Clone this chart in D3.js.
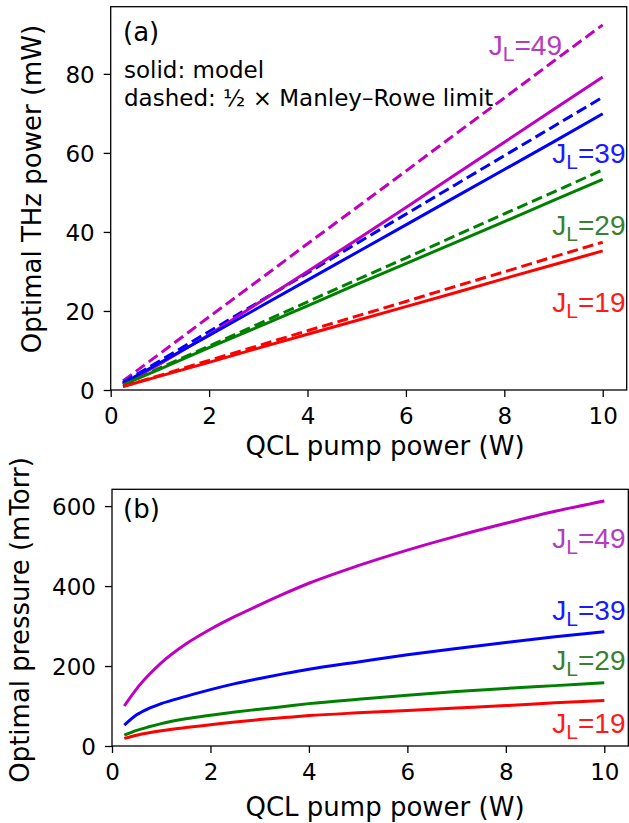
<!DOCTYPE html>
<html><head><meta charset="utf-8">
<script src="https://cdn.jsdelivr.net/npm/d3@7"></script>
<style>body{margin:0;background:#fff} svg{display:block;background:#fff}</style>
</head><body><svg id="c" width="629" height="823"></svg>
<script>
// ---------- data ----------
const xTicks = [0, 2, 4, 6, 8, 10];
const yTicksTop = [0, 20, 40, 60, 80];
const yTicksBottom = [0, 200, 400, 600];
const seriesNames = ["49", "39", "29", "19"];
const lineColors = ["#bf00bf", "#0000ff", "#008000", "#ff0000"];
const labelColors = ["#b23cc2", "#1a1aff", "#3a8030", "#ff1a1a"];

// panel (a): optimal THz power (mW) vs QCL pump power (W)
const pumpTop = [0.25, 1, 2, 3, 4, 5, 6, 7, 8, 9, 10];
const thzModel49 = [1.5, 6.6, 14.0, 22.0, 30.0, 38.0, 46.2, 54.5, 62.7, 71.0, 79.2];
const thzModel39 = [1.7, 6.9, 13.8, 20.8, 27.8, 34.8, 41.8, 48.8, 55.8, 62.8, 69.9];
const thzModel29 = [1.3, 5.3, 10.7, 16.0, 21.3, 26.7, 32.0, 37.3, 42.6, 48.0, 53.3];
const thzModel19 = [0.9, 3.5, 7.0, 10.6, 14.1, 17.6, 21.1, 24.6, 28.2, 31.7, 35.2];
const thzMR49 = [2.3, 9.2, 18.5, 27.7, 37.0, 46.2, 55.4, 64.7, 73.9, 83.2, 92.4];
const thzMR39 = [1.9, 7.4, 14.8, 22.2, 29.6, 37.1, 44.5, 51.9, 59.3, 66.7, 74.1];
const thzMR29 = [1.4, 5.6, 11.1, 16.7, 22.3, 27.9, 33.4, 39.0, 44.6, 50.1, 55.7];
const thzMR19 = [0.9, 3.7, 7.5, 11.2, 15.0, 18.7, 22.4, 26.2, 29.9, 33.7, 37.4];

// panel (b): optimal pressure (mTorr)
const pumpBottom = [0.25, 0.5, 0.75, 1, 1.5, 2, 2.5, 3, 3.5, 4, 5, 6, 7, 8, 9, 10];
const press49 = [100, 143, 178, 208, 255, 292, 324, 353, 381, 407, 451, 490, 525, 557, 587, 613];
const press39 = [52, 78, 94, 106, 124, 141, 156, 169, 181, 192, 210, 228, 244, 259, 273, 286];
const press29 = [27, 39, 48, 56, 68, 77, 85, 92, 99, 106, 117, 127, 136, 144, 151, 158];
const press19 = [19, 27, 33, 38, 46, 53, 60, 66, 71, 76, 83, 89, 95, 101, 108, 114];

const modelTop = [thzModel49, thzModel39, thzModel29, thzModel19];
const mrTop = [thzMR49, thzMR39, thzMR29, thzMR19];
const pressAll = [press49, press39, press29, press19];

// ---------- drawing ----------
const svg = d3.select("#c");
const tickFont = "'DejaVu Sans', sans-serif";

function panel(box, yDomain, yTicks) {
  const x = d3.scaleLinear().domain([0, 10.4875]).range([box.l, box.r]);
  const y = d3.scaleLinear().domain(yDomain).range([box.b, box.t]);
  const g = svg.append("g");
  const ax = g.append("g").attr("transform", `translate(0,${box.b})`)
    .call(d3.axisBottom(x).tickValues(xTicks).tickFormat(d3.format("d")).tickSize(7).tickPadding(9));
  const ay = g.append("g").attr("transform", `translate(${box.l},0)`)
    .call(d3.axisLeft(y).tickValues(yTicks).tickFormat(d3.format("d")).tickSize(7).tickPadding(9));
  [ax, ay].forEach(a => {
    a.select(".domain").remove();
    a.selectAll("line").attr("stroke", "#000").attr("stroke-width", 1.3);
    a.selectAll("text").attr("font-family", tickFont).attr("font-size", 23).attr("fill", "#000");
  });
  ax.selectAll("text").attr("dy", null).attr("y", 34).attr("dominant-baseline", "auto");
  ay.selectAll("text").attr("dy", "0.36em");
  return {g, x, y};
}

function frame(box) {
  svg.append("rect").attr("x", box.l).attr("y", box.t)
    .attr("width", box.r - box.l).attr("height", box.b - box.t)
    .attr("fill", "none").attr("stroke", "#000").attr("stroke-width", 1.3);
}

function jLabel(xp, yp, name, color) {
  const t = svg.append("text").attr("x", xp).attr("y", yp)
    .attr("text-anchor", "end").attr("font-family", "'Liberation Sans', Arial, sans-serif")
    .attr("font-size", 28).attr("fill", color);
  t.append("tspan").text("J");
  t.append("tspan").attr("font-size", 21).attr("dy", 6).text("L");
  t.append("tspan").attr("dy", -6).text("=" + name);
}

// Panel (a)
const boxA = {l: 110.7, r: 626.7, t: 6.7, b: 390};
const pa = panel(boxA, [0, 97], yTicksTop);
const lineA = (vals) => d3.line().x((d, i) => pa.x(pumpTop[i])).y(d => pa.y(d))(vals);
mrTop.forEach((vals, k) => {
  pa.g.append("path").attr("d", lineA(vals)).attr("fill", "none")
    .attr("stroke", lineColors[k]).attr("stroke-width", 3).attr("stroke-dasharray", "11,5");
});
modelTop.forEach((vals, k) => {
  pa.g.append("path").attr("d", lineA(vals)).attr("fill", "none")
    .attr("stroke", lineColors[k]).attr("stroke-width", 3);
});
frame(boxA);

// Panel (b)
const boxB = {l: 112, r: 628.3, t: 489.3, b: 746};
const pb = panel(boxB, [0, 642], yTicksBottom);
const lineB = (vals) => d3.line().curve(d3.curveMonotoneX)
  .x((d, i) => pb.x(pumpBottom[i])).y(d => pb.y(d))(vals);
pressAll.forEach((vals, k) => {
  pb.g.append("path").attr("d", lineB(vals)).attr("fill", "none")
    .attr("stroke", lineColors[k]).attr("stroke-width", 3);
});
frame(boxB);

// axis labels
const lab = (xp, yp, txt, rot) => {
  const t = svg.append("text").attr("font-family", tickFont).attr("font-size", 26)
    .attr("fill", "#000").attr("text-anchor", "middle").text(txt);
  if (rot) t.attr("transform", `translate(${xp},${yp}) rotate(-90)`);
  else t.attr("x", xp).attr("y", yp);
};
lab(385, 455, "QCL pump power (W)");
lab(385, 816, "QCL pump power (W)");
lab(41, 189, "Optimal THz power (mW)", true);
lab(29, 620, "Optimal pressure (mTorr)", true);

// annotations
const note = (xp, yp, txt, fs) => svg.append("text").attr("x", xp).attr("y", yp)
  .attr("font-family", tickFont).attr("font-size", fs).attr("fill", "#000").text(txt);
note(123, 41, "(a)", 26);
note(124, 78, "solid: model", 23);
note(124, 106, "dashed: ½ × Manley–Rowe limit", 23);
note(123, 518, "(b)", 26);

// J_L labels
const topLabelPos = [[562, 55], [625.5, 163], [625.5, 235], [625.5, 312]];
const botLabelPos = [[625.5, 548], [625.5, 620], [625.5, 670], [625.5, 733]];
seriesNames.forEach((n, k) => {
  jLabel(topLabelPos[k][0], topLabelPos[k][1], n, labelColors[k]);
  jLabel(botLabelPos[k][0], botLabelPos[k][1], n, labelColors[k]);
});
</script></body></html>
